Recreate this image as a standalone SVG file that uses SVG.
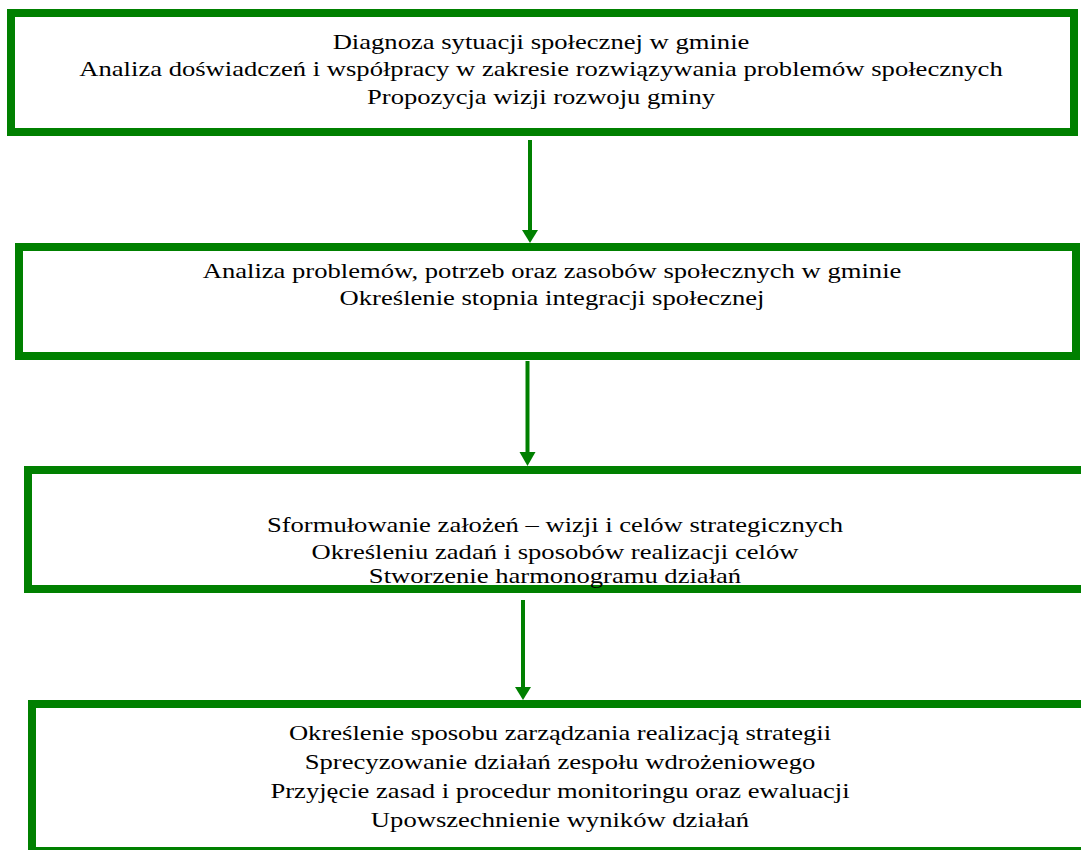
<svg xmlns="http://www.w3.org/2000/svg" width="1081" height="850" viewBox="0 0 1081 850">
<style>
.box{fill:#fff;stroke:#008000;stroke-width:8}
.c{stroke:#008000;stroke-width:4;fill:none}
.h{fill:#008000}
</style>
<rect width="1081" height="850" fill="#fff"/>
<g id="node1">
<rect class="box" x="11" y="13" width="1063" height="119"/>
<g transform="translate(541,0) scale(1.21,1)" font-family="Liberation Serif, serif" font-size="22" text-anchor="middle" fill="#000">
<text x="0" y="49">Diagnoza sytuacji społecznej w gminie</text>
<text x="0" y="76.5">Analiza doświadczeń i współpracy w zakresie rozwiązywania problemów społecznych</text>
<text x="0" y="104">Propozycja wizji rozwoju gminy</text>
</g>
</g>
<g id="node2">
<rect class="box" x="19" y="247" width="1057" height="109"/>
<g transform="translate(552,0) scale(1.21,1)" font-family="Liberation Serif, serif" font-size="22" text-anchor="middle" fill="#000">
<text x="0" y="278">Analiza problemów, potrzeb oraz zasobów społecznych w gminie</text>
<text x="0" y="305.5">Określenie stopnia integracji społecznej</text>
</g>
</g>
<g id="node3">
<rect class="box" x="28" y="470" width="1070" height="119"/>
<g transform="translate(555,0) scale(1.21,1)" font-family="Liberation Serif, serif" font-size="22" text-anchor="middle" fill="#000">
<text x="0" y="532">Sformułowanie założeń – wizji i celów strategicznych</text>
<text x="0" y="559">Określeniu zadań i sposobów realizacji celów</text>
<text x="0" y="583">Stworzenie harmonogramu działań</text>
</g>
</g>
<g id="node4">
<rect class="box" x="32" y="704" width="1070" height="147"/>
<g transform="translate(560,0) scale(1.21,1)" font-family="Liberation Serif, serif" font-size="22" text-anchor="middle" fill="#000">
<text x="0" y="740">Określenie sposobu zarządzania realizacją strategii</text>
<text x="0" y="769">Sprecyzowanie działań zespołu wdrożeniowego</text>
<text x="0" y="798">Przyjęcie zasad i procedur monitoringu oraz ewaluacji</text>
<text x="0" y="827">Upowszechnienie wyników działań</text>
</g>
</g>
<g id="connectors">
<line class="c" x1="530" y1="140" x2="530" y2="230"/>
<polygon class="h" points="522,230 538,230 530,243"/>
<line class="c" x1="527.5" y1="361" x2="527.5" y2="452"/>
<polygon class="h" points="519.5,452 535.5,452 527.5,466"/>
<line class="c" x1="523" y1="600" x2="523" y2="687"/>
<polygon class="h" points="515,687 531,687 523,700"/>
</g>
</svg>
